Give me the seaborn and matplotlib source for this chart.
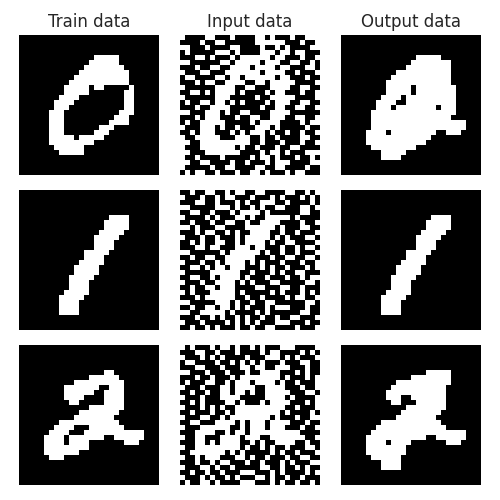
import numpy as np
import matplotlib
matplotlib.use("Agg")
import matplotlib.pyplot as plt
import seaborn as sns

sns.set_style("white")
plt.rcParams['font.family'] = ['DejaVu Sans']

SIZE = 28

# --- clean digits: white runs (first col, last col) per row ---
train_zero = {
    4: [(15, 19)], 5: [(14, 19)], 6: [(13, 20)], 7: [(12, 21)], 8: [(11, 21)],
    9: [(10, 21)], 10: [(9, 13), (15, 16), (22, 22)], 11: [(9, 13), (21, 22)],
    12: [(8, 11), (21, 22)], 13: [(7, 10), (21, 22)], 14: [(7, 9), (21, 22)],
    15: [(6, 8), (20, 22)], 16: [(6, 8), (19, 21)], 17: [(6, 8), (18, 21)],
    18: [(6, 8), (16, 18)], 19: [(6, 8), (15, 17)], 20: [(6, 10), (12, 16)],
    21: [(6, 14)], 22: [(7, 12)], 23: [(8, 12)],
}
train_one = {
    5: [(18, 21)], 6: [(17, 21)], 7: [(17, 21)], 8: [(16, 20)], 9: [(15, 19)],
    10: [(15, 18)], 11: [(15, 18)], 12: [(13, 17)], 13: [(13, 16)], 14: [(12, 16)],
    15: [(11, 15)], 16: [(11, 15)], 17: [(10, 14)], 18: [(10, 13)], 19: [(10, 13)],
    20: [(9, 13)], 21: [(8, 12)], 22: [(8, 11)], 23: [(8, 11)], 24: [(8, 11)],
}
train_two = {
    5: [(17, 18)], 6: [(14, 19)], 7: [(11, 20)], 8: [(9, 15), (18, 20)],
    9: [(9, 14), (17, 20)], 10: [(9, 12), (17, 20)], 11: [(10, 11), (17, 20)],
    12: [(14, 20)], 13: [(12, 19)], 14: [(11, 18)], 15: [(8, 19)],
    16: [(7, 10), (14, 20)], 17: [(6, 9), (13, 24)],
    18: [(5, 8), (10, 16), (19, 24)], 19: [(5, 8), (10, 13), (21, 23)],
    20: [(5, 13)], 21: [(5, 11)], 22: [(6, 8)],
}
output_zero = {
    4: [(15, 19)], 5: [(14, 21)], 6: [(13, 21)], 7: [(11, 21)], 8: [(10, 21)],
    9: [(9, 21)], 10: [(9, 13), (15, 22)], 11: [(9, 13), (15, 22)],
    12: [(8, 11), (13, 22)], 13: [(7, 10), (13, 22)],
    14: [(7, 9), (11, 18), (20, 22)], 15: [(6, 22)], 16: [(6, 21)],
    17: [(6, 24)], 18: [(6, 24)], 19: [(5, 8), (10, 18), (21, 23)],
    20: [(5, 17)], 21: [(5, 16)], 22: [(6, 14)], 23: [(8, 12)], 24: [(8, 11)],
}
output_one = dict(train_one)
output_two = {
    5: [(17, 21)], 6: [(14, 21)], 7: [(11, 21)], 8: [(10, 20)], 9: [(9, 20)],
    10: [(9, 11), (14, 20)], 11: [(10, 11), (15, 20)], 12: [(13, 20)],
    13: [(12, 19)], 14: [(11, 18)], 15: [(8, 19)], 16: [(7, 20)],
    17: [(6, 24)], 18: [(5, 16), (19, 24)], 19: [(5, 8), (10, 13), (21, 23)],
    20: [(5, 12)], 21: [(5, 12)], 22: [(6, 11)], 23: [(8, 11)], 24: [(8, 11)],
}

# --- noisy inputs ('#' = white), read row by row ---
input_zero = [
    "#....## ...#... .##.#.. .#..###",
    "....#.. ##..... .###### ...#..#",
    "##...#. ...##.. ..#..#. #....##",
    ".#..... ###.#.. ..###.# #.##...",
    "...##.# ...#.## ####.## ...#..#",
    "##..... .##.### ##.###. .##..#.",
    "...#..# #..#### .####.# #...##.",
    "#...##. ..##### ##.#### ..#...#",
    ".##.... ##.##.# #####.# #...#..",
    "...#.## ..####. .##.### ##....#",
    "#...... ####..# #...### #..##..",
    "..##.#. ####.#. ...#.## ...#..#",
    "#...... ###.... .#..### ##....#",
    ".#..##. ##.#.#. ...#.## #..##..",
    "...#..# ###.... ..#..## ..##..#",
    "##...## #.#..## ....### #......",
    "...#.## #...#.. ##..### ..##..#",
    ".#..### ##..... #.####. ...#.##",
    "#...### .#..#.. .###.#. ....#..",
    "..#.### ...#.#. ###.#.. #..#..#",
    "#..#### #...### ..#..#. ...##..",
    "##..### ####### ..#...# ...#..#",
    "#...### ####.#. .#...#. .##....",
    "##...## #####.. ..#.##. #...###",
    "#..#... .#..... #.##.#. ..#..#.",
    "##..##. ...#..# ...#.## #....##",
    "#.....# ..##... .##..## ....#..",
    ".#.##.. #...#.. ##.#... #.##...",
]
input_one = [
    "..#..## ..#.##. .##.... ##..#.#",
    "#...#.. #.##... #...#.# ...#.#.",
    "...##.. #...#.# ..###.. #....#.",
    "##..... ###.#.. #.#..## ...##.#",
    "..##..# ...#.## ##.#... ...##..",
    "#....#. #...##. #..#### #.#....",
    "..#...# ..##..# ..####. ...#..#",
    "##.#... ##....# #####.# ...##..",
    "...#.## ..#.#.. ####..# ..#...#",
    "#...#.. #...#.# ####.#. #...##.",
    "..#.#.. ##..#.# ###.#.. ##....#",
    "...##.# #...### .##...# ..#.##.",
    "##..... .#.#### ##.#..# ..#...#",
    "..#..## ..##### #...#.. ##..##.",
    "#...#.. #.####. #.#...# ...#..#",
    "..##.#. ##.###. ..#.#.. #...#.#",
    "#.....# #####.. #...#.# ..##...",
    "..##..# .####.# ...#... #..#.##",
    "#...#.. ####.#. #...##. ....##.",
    "..#..## .###... .##...# #..#...",
    "#.#...# ####.#. ....#.# ...#.#.",
    "...#.## ####..# ..#.... #.##..#",
    "##..... ###.#.. #..##.. ....##.",
    "..#..## .##.#.# ...#.## #...#..",
    "##..### ##.#... .#.#... ...##..",
    "...#..# .#..#.# ..#..#. .##...#",
    "#...#.. ..#.#.# .#...## #...#..",
    "..#..#. #...#.. #..##.. ..#...#",
]
input_two = [
    "#.#...# .##.#.. #.#...# ##....#",
    "...##.. #...#.. ..#.##. ...#.#.",
    "#...#.# .#....# ...###. #.#...#",
    ".##.... #..#.#. #.#...# ...##..",
    "...##.. .#...## .##..## #...#..",
    "##...#. ..#...# ..####. ..#.#..",
    "...#..# ...#.## ######. #...#.#",
    ".#...## ..#.### .####.# ..#...#",
    "#...#.. .##.### #..#### ...#..#",
    "..#..#. .##.##. #..#### #...##.",
    "#...#.. .####.. ...#### .#....#",
    "..#.#.. ..##.#. ..#.### #...#.#",
    "#...#.# .#..### ####### ..#...#",
    "..#...# ..#.### ######. #....#.",
    "#...##. .#.#### ####.#. ..#..##",
    "..##... ####.#. ###.### #...#..",
    "#...### ###..#. ###.### ...#..#",
    "...#### ..#.##. ####### ###....",
    "#..##.. .####.# ##..### ####..#",
    "...##.# .####.. #.#..## ##..#..",
    "#..#### #####.# ..#.#.. #...##.",
    "..##### ##.#.#. ....#.# ..#...#",
    "#..#.## #...##. #..#... #..##..",
    "...#..# .##...# ..#...# .#...##",
    "#...##. #..#... ..##..# ..#.#..",
    "..#..#. .#...## #...#.# ....#.#",
    "#...#.# ..#.#.. .##.#.. #..#...",
    ".#..##. #....## #...#.# ..#..#.",
]

col_titles = ["Train data", "Input data", "Output data"]


def from_spans(spans):
    grid = np.zeros((SIZE, SIZE))
    for row, runs in spans.items():
        for a, b in runs:
            grid[row, a:b + 1] = 1
    return grid


def from_rows(rows):
    grid = np.zeros((SIZE, SIZE))
    for r, line in enumerate(rows):
        line = (line.replace(" ", "") + "." * SIZE)[:SIZE]
        grid[r] = [1 if ch == "#" else 0 for ch in line]
    return grid


panels = [
    [from_spans(train_zero), from_rows(input_zero), from_spans(output_zero)],
    [from_spans(train_one), from_rows(input_one), from_spans(output_one)],
    [from_spans(train_two), from_rows(input_two), from_spans(output_two)],
]

fig, axes = plt.subplots(3, 3, figsize=(5, 5), dpi=100)
fig.subplots_adjust(left=0.038, right=0.962, bottom=0.03, top=0.93,
                    wspace=0.15, hspace=0.107)

for i in range(3):
    for j in range(3):
        ax = axes[i, j]
        sns.heatmap(panels[i][j], ax=ax, cmap="gray", vmin=0, vmax=1,
                    cbar=False, xticklabels=False, yticklabels=False,
                    square=True)
        if i == 0:
            ax.set_title(col_titles[j], fontsize=12)

fig.savefig("out.png", dpi=100)
